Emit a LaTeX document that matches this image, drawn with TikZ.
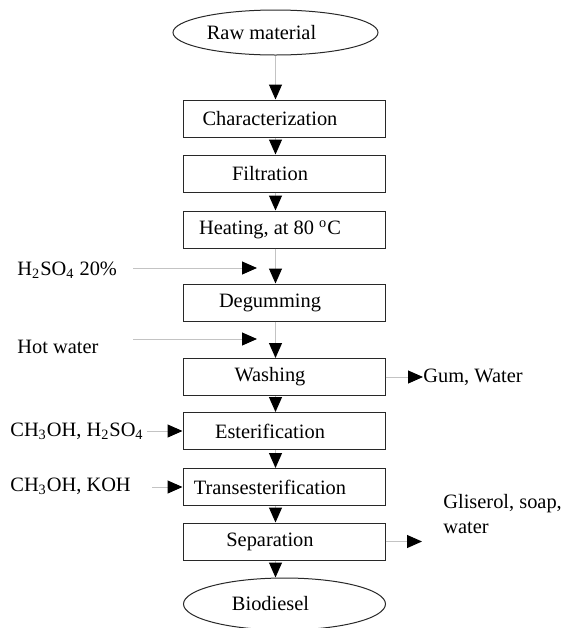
\documentclass[tikz,border=0pt]{standalone}
\usepackage{fontspec}
\setmainfont{Liberation Serif}
\usepackage{tikz}
\usetikzlibrary{arrows.meta,shapes.geometric}
\definecolor{lGray}{RGB}{195,195,195}
\definecolor{dLine}{RGB}{40,40,40}

\begin{document}
\begin{tikzpicture}[x=0.5pt,y=-0.5pt,font=\fontsize{10.2}{12.5}\selectfont,
  b/.style={draw=dLine,line width=0.5pt,minimum width=101pt,minimum height=18.5pt,inner sep=0pt,execute at begin node={\hspace*{-14pt}}},
  e/.style={b,ellipse,minimum height=22.5pt},
  t/.style={anchor=west,inner sep=0pt,align=left},
  a/.style={-{Triangle[length=7.5pt,width=6.5pt,color=black,fill=black]},line width=0.5pt,lGray}]
  \useasboundingbox (0,0) rectangle (568,628);
  \node[e,minimum width=102.5pt] (raw) at (275.5,32.5) {Raw material};
  \node[b] (char) at (284,118.5) {Characterization};
  \node[b] (filt) at (284,173.5) {Filtration};
  \node[b] (heat) at (284,229.5) {Heating, at 80 \textsuperscript{o}C};
  \node[b] (degum) at (284,302.5) {Degumming};
  \node[b] (wash) at (284,377) {Washing};
  \node[b] (est) at (284,431) {Esterification};
  \node[b] (trans) at (284,487) {Transesterification};
  \node[b] (sep) at (284,541.5) {Separation};
  \node[e,minimum height=26pt] (bio) at (284.5,604) {Biodiesel};
  % inputs and outputs
  \node[t] (h2so) at (17,270) {H\textsubscript{2}SO\textsubscript{4} 20\%};
  \node[t] (hot) at (17,347) {Hot water};
  \node[t] (mh2) at (10,431) {CH\textsubscript{3}OH, H\textsubscript{2}SO\textsubscript{4}};
  \node[t] (mkoh) at (10,486) {CH\textsubscript{3}OH, KOH};
  \node[t] (gum) at (423,377) {Gum, Water};
  \node[t] (glis) at (443,514.5) {Gliserol, soap,\\water};
  \coordinate (h2a) at (133,268); \coordinate (h2b) at (257,268);
  \coordinate (hwa) at (133,339); \coordinate (hwb) at (257,339);
  \coordinate (mha) at (147,431); \coordinate (mka) at (152,487);
  \coordinate (glisa) at (422,541.5);
  \draw[a] (raw.south) -- (raw.south |- char.north);
  \draw[a] (char.south -| raw) -- (filt.north -| raw); \draw[a] (filt.south -| raw) -- (heat.north -| raw);
  \draw[a] (heat.south -| raw) -- (degum.north -| raw); \draw[a] (degum.south -| raw) -- (wash.north -| raw);
  \draw[a] (wash.south -| raw) -- (est.north -| raw); \draw[a] (est.south -| raw) -- (trans.north -| raw);
  \draw[a] (trans.south -| raw) -- (sep.north -| raw); \draw[a] (sep.south -| raw) -- (bio.north -| raw);
  \draw[a] (h2a) -- (h2b); \draw[a] (hwa) -- (hwb);
  \draw[a] (mha) -- (est.west); \draw[a] (mka) -- (trans.west);
  \draw[a] (wash.east) -- (gum.west); \draw[a] (sep.east) -- (glisa);
\end{tikzpicture}
\end{document}
